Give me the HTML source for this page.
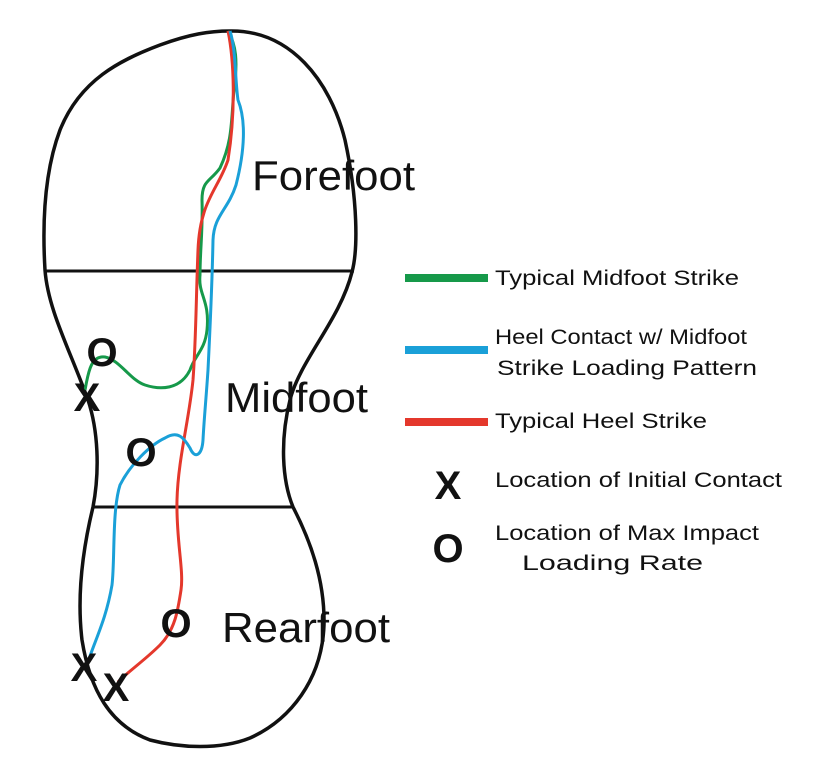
<!DOCTYPE html><html><head><style>body{margin:0;background:#fff}svg{display:block}</style></head><body>
<svg width="821" height="768" viewBox="0 0 821 768" xmlns="http://www.w3.org/2000/svg" font-family="Liberation Sans, sans-serif">
<path d="M230,31 C290,30 330,80 345,140 C358,200 358,250 352,272 C340,320 300,360 290,400 C280,440 282,480 293,507 C310,540 325,580 324,625 C322,680 290,720 250,738 C220,750 180,748 150,740 C110,725 90,690 82,640 C76,590 85,540 93,507 C100,470 98,430 88,400 C70,350 48,310 45,270 C42,220 45,170 60,130 C80,80 120,60 160,45 C190,34 210,31 230,31 Z" fill="none" stroke="#111" stroke-width="3.5"/>
<line x1="45" y1="271" x2="354" y2="271" stroke="#111" stroke-width="3"/>
<line x1="92" y1="507" x2="292" y2="507" stroke="#111" stroke-width="3"/>
<path d="M228,31 C236,45 238,60 234,90 C231,120 233,140 220,168 C210,182 202,180 202,200 C203,230 200,250 200,275 C198,295 210,300 207,330 C205,350 195,355 190,370 C180,390 160,390 145,385 C130,380 120,360 105,357 C90,355 88,375 85,390" fill="none" stroke="#16994a" stroke-width="3"/>
<path d="M228,31 C234,60 236,110 228,160 C218,190 200,200 198,250 C196,300 196,340 193,380 C189,420 178,460 177,500 C176,540 184,570 181,590 C178,610 175,630 160,645 C145,660 130,670 118,682" fill="none" stroke="#e4382c" stroke-width="3"/>
<path d="M230,31 C236,50 235,80 238,100 C246,120 245,150 236,185 C228,210 214,215 213,240 C212,290 210,330 208,370 C206,400 204,420 203,440 C202,455 195,460 190,448 C184,438 178,430 165,438 C150,445 130,465 120,485 C112,510 115,560 112,585 C106,620 95,640 88,662" fill="none" stroke="#1aa0d8" stroke-width="3"/>
<g font-weight="bold" font-size="40" fill="#111" text-anchor="middle">
<text x="102" y="366">O</text><text x="141" y="466">O</text><text x="176" y="637">O</text>
<text x="87" y="411">X</text><text x="84" y="681">X</text><text x="116" y="701">X</text>
<text x="448" y="499">X</text><text x="448" y="562">O</text>
</g>
<g font-size="42" fill="#111">
<text x="252" y="190" textLength="163" lengthAdjust="spacingAndGlyphs">Forefoot</text>
<text x="225" y="412" textLength="143" lengthAdjust="spacingAndGlyphs">Midfoot</text>
<text x="222" y="642" textLength="168" lengthAdjust="spacingAndGlyphs">Rearfoot</text>
</g>
<rect x="405" y="274" width="83" height="8" fill="#16994a"/>
<rect x="405" y="346" width="83" height="8" fill="#1aa0d8"/>
<rect x="405" y="418" width="83" height="8" fill="#e4382c"/>
<g font-size="21" fill="#111" lengthAdjust="spacingAndGlyphs">
<text x="495" y="285" textLength="244" lengthAdjust="spacingAndGlyphs">Typical Midfoot Strike</text>
<text x="495" y="344" textLength="252" lengthAdjust="spacingAndGlyphs">Heel Contact w/ Midfoot</text>
<text x="497" y="375" textLength="260" lengthAdjust="spacingAndGlyphs">Strike Loading Pattern</text>
<text x="495" y="428" textLength="212" lengthAdjust="spacingAndGlyphs">Typical Heel Strike</text>
<text x="495" y="487" textLength="287" lengthAdjust="spacingAndGlyphs">Location of Initial Contact</text>
<text x="495" y="540" textLength="264" lengthAdjust="spacingAndGlyphs">Location of Max Impact</text>
<text x="522" y="570" textLength="181" lengthAdjust="spacingAndGlyphs">Loading Rate</text>
</g>
</svg></body></html>
